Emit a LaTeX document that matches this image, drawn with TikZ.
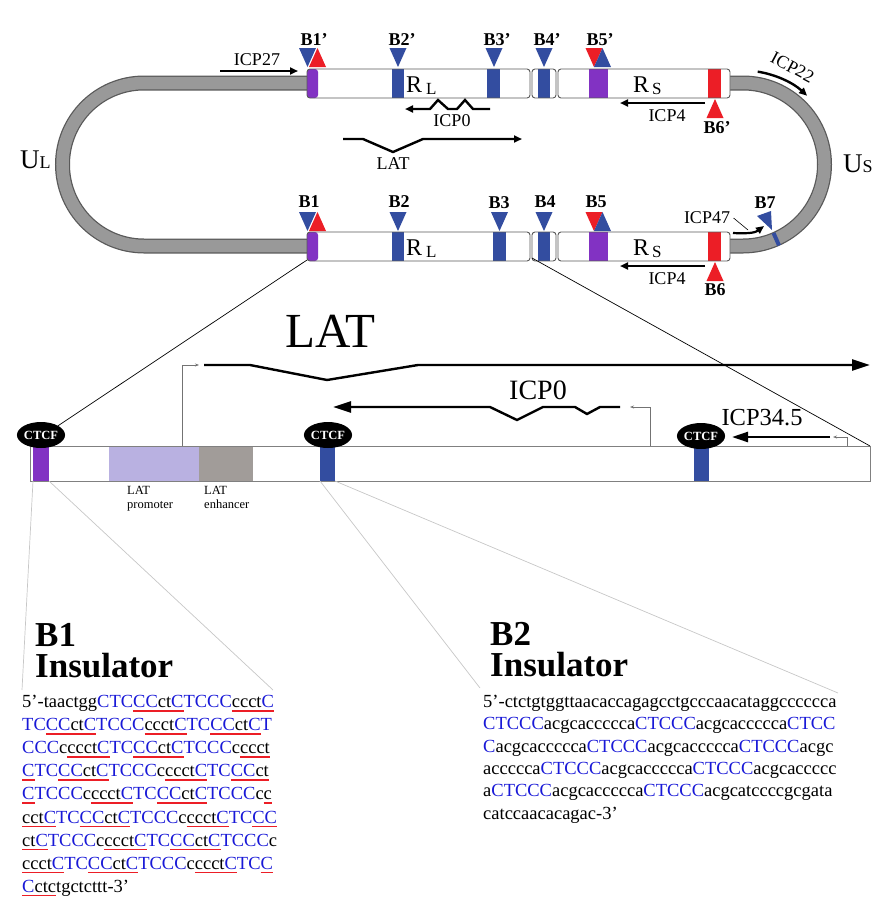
\documentclass[tikz,border=0pt]{standalone}
\usepackage{fontspec}
\setmainfont{Liberation Serif}
\usetikzlibrary{shapes.geometric,arrows.meta}
\definecolor{bandblue}{RGB}{51,77,160}
\definecolor{bandpurple}{RGB}{130,50,195}
\definecolor{bandred}{RGB}{236,30,38}
\definecolor{tubegray}{RGB}{153,153,153}
\definecolor{promcol}{RGB}{185,177,225}
\definecolor{enhcol}{RGB}{161,156,153}
\definecolor{seqblue}{RGB}{25,25,215}
\newcommand\fsz[1]{\fontsize{#1}{#1}\selectfont}
\newcommand\dtri[3]{\fill[#3] ({#1-8.5},#2) -- ({#1+8.5},#2) -- (#1,{#2+19}) -- cycle;}% tip down
\newcommand\utri[3]{\fill[#3] ({#1-8.5},{#2+19}) -- ({#1+8.5},{#2+19}) -- (#1,#2) -- cycle;}% tip up
\newcommand\cb[1]{\textcolor{seqblue}{#1}}
\newcommand\redul[1]{\setbox0\hbox{#1}\rlap{\color{bandred}\rule[-4pt]{\wd0}{1.5pt}}\box0}
\newcommand\hsvstrand[2]{% #1 top of the bar, #2 left side of B3 band
  \fill[white,rounded corners=3pt] (307,#1) rectangle (530,{#1+29});
  \fill[white,rounded corners=3pt] (532,#1) rectangle (556,{#1+29});
  \fill[white,rounded corners=3pt] (558,#1) rectangle (730,{#1+29});
  \fill[bandpurple,rounded corners=3pt] (307,#1) rectangle (318,{#1+29});
  \fill[bandblue] (392,#1) rectangle (404,{#1+29});
  \fill[bandblue] (#2,#1) rectangle ({#2+13},{#1+29});
  \fill[bandblue] (538,#1) rectangle (550,{#1+29});
  \fill[bandpurple] (589,#1) rectangle (608,{#1+29});
  \fill[bandred] (708,#1) rectangle (721,{#1+29});
  \draw[barline] (307,#1) rectangle (530,{#1+29});
  \draw[barline] (532,#1) rectangle (556,{#1+29});
  \draw[barline] (558,#1) rectangle (730,{#1+29});
}
\tikzset{
  barline/.style={draw=black!65, line width=0.9pt, rounded corners=3pt},
  blab/.style={font=\bfseries\fsz{18}},
  lab/.style={font=\fsz{18}},
  ctcf/.style={ellipse, fill=black, text=white, font=\bfseries\fsz{12.5}, minimum width=46pt, minimum height=26pt, inner sep=0pt},
  gene/.style={line width=2.4pt, -{Triangle[length=8pt,width=7pt]}},
  biggene/.style={line width=2.4pt, -{Triangle[length=18pt,width=11pt]}},
  tss/.style={draw=black!55, line width=0.7pt, -{Stealth[length=4pt,width=3pt]}},
  zoomline/.style={black!22, line width=0.7pt},
}
\begin{document}
\begin{tikzpicture}[x=1pt,y=-1pt]
\useasboundingbox (0,0) rectangle (883,916);
% the unique regions U_L and U_S
\draw[line width=15pt, black!65] (310,83) -- (144,83) arc[start angle=270, end angle=90, radius=81.5] -- (310,246);
\draw[line width=12.5pt, tubegray] (310,83) -- (144,83) arc[start angle=270, end angle=90, radius=81.5] -- (310,246);
\draw[line width=15pt, black!65] (725,83) -- (743,83) arc[start angle=270, end angle=450, radius=81.5] -- (725,246);
\draw[line width=12.5pt, tubegray] (725,83) -- (743,83) arc[start angle=270, end angle=450, radius=81.5] -- (725,246);
\draw[bandblue, line width=4pt] ([shift={(66:75)}]743,164.5) -- ([shift={(66:88.5)}]743,164.5);
% repeats, top and bottom
\hsvstrand{69}{487}
\hsvstrand{232}{493}
\dtri{307.5}{48}{bandblue} \utri{317.5}{48}{bandred}
\dtri{398}{48}{bandblue}
\dtri{494}{48}{bandblue}
\dtri{544}{48}{bandblue}
\dtri{594}{48}{bandred} \utri{602.5}{48}{bandblue}
\utri{715}{99}{bandred}
\dtri{307.5}{212}{bandblue} \utri{317.5}{212}{bandred}
\dtri{398}{212}{bandblue}
\dtri{499.5}{212}{bandblue}
\dtri{544}{212}{bandblue}
\dtri{594}{212}{bandred} \utri{602.5}{212}{bandblue}
\utri{715}{262}{bandred}
\fill[bandblue] (757,216) -- (771,211) -- (772,230) -- cycle;
\node[blab] (b1p) at (314,40) {B1’};
\node[blab] (b2p) at (402,40) {B2’};
\node[blab] (b3p) at (497,40) {B3’};
\node[blab] (b4p) at (547,40) {B4’};
\node[blab] (b5p) at (600,40) {B5’};
\node[blab] (b6p) at (717,128) {B6’};
\node[blab] (b1) at (309,202) {B1};
\node[blab] (b2) at (399,202) {B2};
\node[blab] (b3) at (499,203) {B3};
\node[blab] (b4) at (545,202) {B4};
\node[blab] (b5) at (596,202) {B5};
\node[blab] (b6) at (715,290) {B6};
\node[blab] (b7) at (765,203) {B7};
\node[anchor=base west, inner sep=0pt] (rl1) at (406,92) {\fsz{24}R\hspace{4pt}\raisebox{-2pt}{\fsz{17}L}};
\node[anchor=base west, inner sep=0pt] (rs1) at (633,92) {\fsz{24}R\hspace{3pt}\raisebox{-2pt}{\fsz{17}S}};
\node[anchor=base west, inner sep=0pt] (rl2) at (406,255) {\fsz{24}R\hspace{4pt}\raisebox{-2pt}{\fsz{17}L}};
\node[anchor=base west, inner sep=0pt] (rs2) at (633,255) {\fsz{24}R\hspace{3pt}\raisebox{-2pt}{\fsz{17}S}};
\node[anchor=base west, inner sep=0pt] (ul) at (20,168) {\fsz{27}U\fsz{18}L};
\node[anchor=base west, inner sep=0pt] (us) at (843,172) {\fsz{27}U\fsz{18}S};
% transcripts on the genome
\draw[gene] (220,71) -- (298,71);
\node[lab] (icp27) at (257,60) {ICP27};
\draw[gene] (490,109) -- (473,109) -- (465,100) -- (457,109) -- (448,109) -- (438,100) -- (430,109) -- (405,109);
\node[lab] (icp0a) at (452,121) {ICP0};
\draw[gene] (343,139) -- (363,139) -- (393,152) -- (423,139) -- (522,139);
\node[lab] (lata) at (393,164) {LAT};
\draw[gene] (705,103) -- (620,103);
\node[lab] (icp4a) at (667,116) {ICP4};
\draw[gene] (705,266) -- (620,266);
\node[lab] (icp4b) at (667,279) {ICP4};
\draw[gene] ([shift={(-81:94)}]743,164.5) arc[start angle=-81, end angle=-47, radius=94];
\node[lab, rotate=-28, inner sep=1pt] (icp22) at ([shift={(-63:109)}]743,164.5) {ICP22};
\draw[gene, line width=2.2pt] (733,233) .. controls (752,234) and (756,232) .. (764,226);
\node[lab] (icp47) at (707,218) {ICP47};
\coordinate (icp47end) at (748,230);
\draw[line width=0.6pt] (icp47.east) -- (icp47end);
% zoom into the repeat
\coordinate (barstart) at (307,260);
\coordinate (bargap) at (532,258);
\coordinate (boxne) at (870,446);
\fill[promcol] (109,446) rectangle (199,481);
\fill[enhcol] (199,446) rectangle (253,481);
\fill[bandpurple] (33,446) rectangle (49,481);
\fill[bandblue] (320,446) rectangle (335,481);
\fill[bandblue] (694,446) rectangle (709,481);
\draw[black!50, line width=1pt] (30,446) rectangle (870,481);
\node[ctcf] (ctcfa) at (41,435) {CTCF};
\node[ctcf] (ctcfb) at (328,435) {CTCF};
\node[ctcf] (ctcfc) at (701,436) {CTCF};
\draw[line width=0.7pt] (barstart) -- (ctcfa.north east);
\draw[line width=0.7pt] (bargap) -- (boxne);
\node[anchor=north west, inner sep=0pt, align=left, font=\fontsize{12.5}{14}\selectfont] (prom) at (127,486) {LAT\\promoter};
\node[anchor=north west, inner sep=0pt, align=left, font=\fontsize{12.5}{14}\selectfont] (enh) at (204,486) {LAT\\enhancer};
\node[font=\fsz{49}] (latb) at (330,331) {LAT};
\draw[tss] (182,446) -- (182,365) -- (199,365);
\draw[biggene] (204,365) -- (250,365) -- (327,380) -- (418,365) -- (870,365);
\draw[tss] (650,446) -- (650,407) -- (630,407);
\draw[biggene] (620,407) -- (600,407) -- (587,414) -- (575,407) -- (543,407) -- (517,420) -- (490,407) -- (333,407);
\node[font=\fsz{28}] (icp0b) at (538,390) {ICP0};
\draw[tss] (847,446) -- (847,437) -- (833,437);
\draw[line width=2.4pt, -{Triangle[length=16pt,width=10pt]}] (830,437) -- (732,437);
\node[font=\fsz{24.5}] (icp345) at (762,418) {ICP34.5};
% lines down to the insulator sequences
\coordinate (pa1) at (33,481);
\coordinate (pa2) at (49,481);
\coordinate (pb1) at (320,481);
\coordinate (pb2) at (335,481);
\coordinate (qa1) at (22,690);
\coordinate (qa2) at (273,690);
\coordinate (qb1) at (480,688);
\coordinate (qb2) at (838,693);
\draw[zoomline] (pa1) -- (qa1);
\draw[zoomline] (pa2) -- (qa2);
\draw[zoomline] (pb1) -- (qb1);
\draw[zoomline] (pb2) -- (qb2);
\node[anchor=north west, inner sep=0pt, align=left, font=\bfseries\fontsize{35}{31}\selectfont] (insa) at (35,623) {B1\\Insulator};
\node[anchor=north west, inner sep=0pt, align=left, font=\bfseries\fontsize{35}{31}\selectfont] (insb) at (490,622) {B2\\Insulator};
\node[anchor=north west, inner sep=0pt, align=left, font=\fontsize{18.5}{23.1}\selectfont] (seqa) at (22,695) {%
5’-taactgg\cb{CTC}\redul{\cb{CC}ct\cb{C}}\cb{TCCC}\redul{ccct\cb{C}}\\
\cb{TC}\redul{\cb{CC}ct\cb{C}}\cb{TCCC}\redul{ccct\cb{C}}\cb{TC}\redul{\cb{CC}ct\cb{C}}\cb{T}\\
\cb{CCC}c\redul{ccct\cb{C}}\cb{TC}\redul{\cb{CC}ct\cb{C}}\cb{TCCC}c\redul{ccct}\\
\redul{\cb{C}}\cb{TC}\redul{\cb{CC}ct\cb{C}}\cb{TCCC}c\redul{ccct\cb{C}}\cb{TC}\redul{\cb{CC}ct}\\
\redul{\cb{C}}\cb{TCCC}c\redul{ccct\cb{C}}\cb{TC}\redul{\cb{CC}ct\cb{C}}\cb{TCCC}c\redul{c}\\
\redul{cct\cb{C}}\cb{TC}\redul{\cb{CC}ct\cb{C}}\cb{TCCC}c\redul{ccct\cb{C}}\cb{TC}\redul{\cb{CC}}\\
\redul{ct\cb{C}}\cb{TCCC}c\redul{ccct\cb{C}}\cb{TC}\redul{\cb{CC}ct\cb{C}}\cb{TCCC}c\\
\redul{ccct\cb{C}}\cb{TC}\redul{\cb{CC}ct\cb{C}}\cb{TCCC}c\redul{ccct\cb{C}}\cb{TC}\redul{\cb{C}}\\
\redul{\cb{C}ctc}tgctcttt-3’};
\node[anchor=north west, inner sep=0pt, align=left, font=\fontsize{18.5}{22.3}\selectfont] (seqb) at (483,695) {%
5’-ctctgtggttaacaccagagcctgcccaacataggcccccca\\
\cb{CTCCC}acgcaccccca\cb{CTCCC}acgcaccccca\cb{CTCC}\\
\cb{C}acgcaccccca\cb{CTCCC}acgcaccccca\cb{CTCCC}acgc\\
accccca\cb{CTCCC}acgcaccccca\cb{CTCCC}acgcaccccc\\
a\cb{CTCCC}acgcaccccca\cb{CTCCC}acgcatccccgcgata\\
catccaacacagac-3’};
\end{tikzpicture}
\end{document}
